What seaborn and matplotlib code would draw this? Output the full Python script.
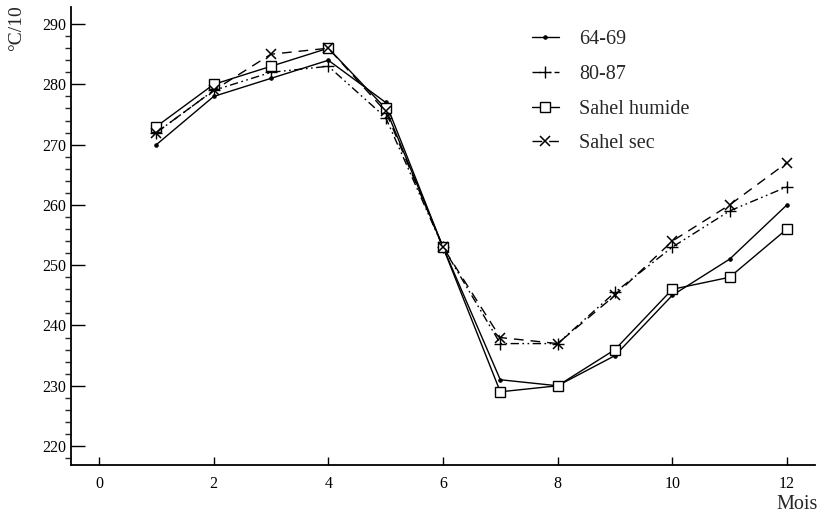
import pandas as pd
import matplotlib.pyplot as plt
import seaborn as sns

sns.set_style("ticks")
plt.rcParams['font.family'] = ['Liberation Serif', 'DejaVu Serif']
plt.rcParams.update({'font.size': 11.5})

# Monthly mean temperature (°C/10)
mois = [1, 2, 3, 4, 5, 6, 7, 8, 9, 10, 11, 12]
t_64_69 = [270, 278, 281, 284, 277, 253, 231, 230, 235, 245, 251, 260]
t_80_87 = [272, 279, 282, 283, 274.5, 253, 237, 237, 245.5, 253, 259, 263]
sahel_humide = [273, 280, 283, 286, 276, 253, 229, 230, 236, 246, 248, 256]
sahel_sec = [272, 279, 285, 286, 275.5, 253, 238, 237, 245, 254, 260, 267]

df = pd.DataFrame({'Mois': mois, '64-69': t_64_69, '80-87': t_80_87,
                   'Sahel humide': sahel_humide, 'Sahel sec': sahel_sec})

fig = plt.figure(figsize=(8.29, 5.15), dpi=100)
ax = fig.add_axes([0.0856, 0.097, 0.8975, 0.889])

styles = {
    '64-69': dict(marker='o', markersize=2.5, linestyle='-'),
    '80-87': dict(marker='+', markersize=8, markeredgewidth=1.0,
                  dashes=(6, 2.5, 1.2, 2.5, 1.2, 2.5)),
    'Sahel humide': dict(marker='s', markersize=6.5, markerfacecolor='white',
                         markeredgewidth=1.0, linestyle='-'),
    'Sahel sec': dict(marker='x', markersize=7, markeredgewidth=1.1,
                      dashes=(7, 5)),
}

for name, kw in styles.items():
    sns.lineplot(data=df, x='Mois', y=name, ax=ax, color='black',
                 linewidth=1.0, label=name, markeredgecolor='black', **kw)

ax.set_xlim(-0.49, 12.49)
ax.set_ylim(216.85, 292.8)
ax.set_xticks(range(0, 13, 2))
ax.set_yticks(range(220, 291, 10))
ax.set_yticks(range(218, 292, 2), minor=True)
ax.tick_params(axis='both', direction='in', colors='black', labelsize=11.5)
ax.tick_params(axis='y', which='major', length=10, width=1.0)
ax.tick_params(axis='y', which='minor', length=4.5, width=1.0)
ax.tick_params(axis='x', which='major', length=6, width=1.0, pad=8)
sns.despine(ax=ax)
for s in ['left', 'bottom']:
    ax.spines[s].set_linewidth(1.3)
    ax.spines[s].set_color('black')

ax.set_xlabel('')
ax.set_ylabel('')
fig.text(0.010, 0.99, '°C/10', rotation=90, ha='left', va='top', fontsize=14)
fig.text(0.986, 0.012, 'Mois', ha='right', va='baseline', fontsize=14.5)

ax.legend(loc='upper left', bbox_to_anchor=(0.595, 0.99), frameon=False,
          handlelength=1.35, handletextpad=1.0, labelspacing=0.78,
          fontsize=14.5)

plt.savefig('out.png', dpi=100)
